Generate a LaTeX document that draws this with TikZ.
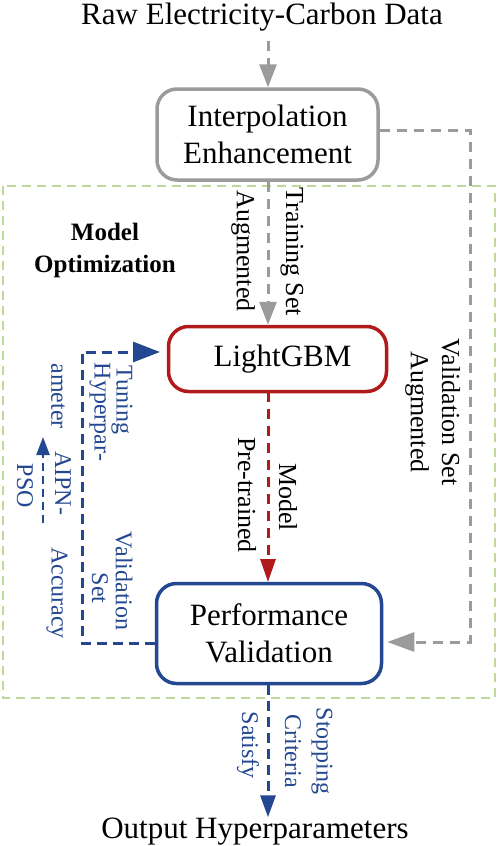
\documentclass[tikz,border=0pt]{standalone}
\usepackage{fontspec}
\setmainfont{Liberation Serif}
\usetikzlibrary{arrows.meta}
\definecolor{cgray}{RGB}{155,155,155}
\definecolor{cred}{RGB}{176,26,26}
\definecolor{cblue}{RGB}{35,72,145}
\definecolor{cgreen}{RGB}{192,216,152}
\tikzset{
  maintext/.style={inner sep=0pt, font=\fontsize{31}{37}\selectfont, align=center},
  boxnode/.style={draw, line width=3.5pt, rounded corners=20pt, align=center, inner sep=0pt,
     font=\fontsize{31}{37}\selectfont, fill=white},
  lab/.style={rotate=-90, inner sep=0pt, font=\fontsize{26}{30}\selectfont},
  blab/.style={rotate=-90, inner sep=0pt, text=cblue, font=\fontsize{24}{28}\selectfont},
  gline/.style={draw=cgray, line width=3pt, dash pattern=on 10pt off 7pt},
  rline/.style={draw=cred, line width=3pt, dash pattern=on 10pt off 7pt},
  bline/.style={draw=cblue, line width=3pt, dash pattern=on 10pt off 6pt},
  gtip/.style={-{Triangle[length=23pt,width=17pt,fill=cgray]}},
  gbigtip/.style={-{Triangle[length=27pt,width=19pt,fill=cgray]}},
  rtip/.style={-{Triangle[length=23pt,width=15pt,fill=cred]}},
  btip/.style={-{Triangle[length=22pt,width=15pt,fill=cblue]}},
  bbigtip/.style={-{Triangle[length=27pt,width=20pt,fill=cblue]}},
}
\begin{document}
\begin{tikzpicture}[x=1pt,y=-1pt]
\useasboundingbox (0,0) rectangle (498,846);
% green frame
\draw[draw=cgreen, line width=2.5pt, dash pattern=on 9pt off 6pt] (3,186) rectangle (495,698);
% texts
\node[maintext, anchor=base] (title) at (262,24) {Raw Electricity-Carbon Data};
\node[maintext, anchor=base] (out) at (255,838) {Output Hyperparameters};
\node[font=\fontsize{25}{32}\selectfont\bfseries, align=center, inner sep=0pt] (mo) at (105,250) {Model\\Optimization};
% boxes
\node[boxnode, draw=cgray, minimum width=221pt, minimum height=91pt] (interp) at (267.5,134.5) {Interpolation\\Enhancement};
\node[boxnode, draw=cred, minimum width=218pt, minimum height=65pt] (lgbm) at (277.5,359) {\hspace*{10pt}LightGBM};
\node[boxnode, draw=cblue, minimum width=225pt, minimum height=100pt] (perf) at (269,633.5) {Performance\\Validation};
% connectors
\coordinate (c1) at (268,130);
\draw[gline, gtip] (title.south -| c1) ++(0,10) -- (c1 |- interp.north);
\draw[gline, gtip] (c1 |- interp.south) -- (c1 |- lgbm.north);
\draw[rline, rtip] (268,392) -- (268,582);
\draw[bline, btip] (perf.south -| c1) -- (c1 |- out.north);
\coordinate (gr1) at (470,130);
\coordinate (gr2) at (470,642);
\draw[gline, gbigtip, shorten >=4pt] (interp.east |- gr1) -- (gr1) -- (gr2) -- (perf.east |- gr2);
\coordinate (fb1) at (82,643);
\coordinate (fb2) at (82,352);
\coordinate (fb3) at (160,352);
\draw[bline, bbigtip] (perf.west |- fb1) -- (fb1) -- (fb2) -- (fb3);
\coordinate (sa1) at (43,523);
\coordinate (sa2) at (43,437);
\draw[draw=cblue, line width=2.5pt, dash pattern=on 8pt off 5pt, -{Triangle[length=18pt,width=13pt,fill=cblue]}] (sa1) -- (sa2);
% black labels
\node[lab] (l1) at (243,251) {Augmented};
\node[lab] (l2) at (292,252) {Training Set};
\node[lab] (l3) at (247,495) {Pre-trained};
\node[lab] (l4) at (288,497) {Model};
\node[lab] (l5) at (451,412) {Validation Set};
\node[lab] (l6) at (417,412) {Augmented};
% blue labels
\node[blab] (b1) at (122,400) {Tuning};
\node[blab] (b2) at (100,412) {Hyperpar-};
\node[blab] (b3) at (58,396) {ameter};
\node[blab] (b4) at (63,483) {AIPN-};
\node[blab] (b5) at (25,486) {PSO};
\node[blab] (b6) at (57,593) {Accuracy};
\node[blab] (b7) at (124,581) {Validation};
\node[blab] (b8) at (100,588) {Set};
\node[blab] (b9) at (248,745) {Satisfy};
\node[blab] (b10) at (293,751) {Criteria};
\node[blab] (b11) at (322,751) {Stopping};
\end{tikzpicture}
\end{document}
